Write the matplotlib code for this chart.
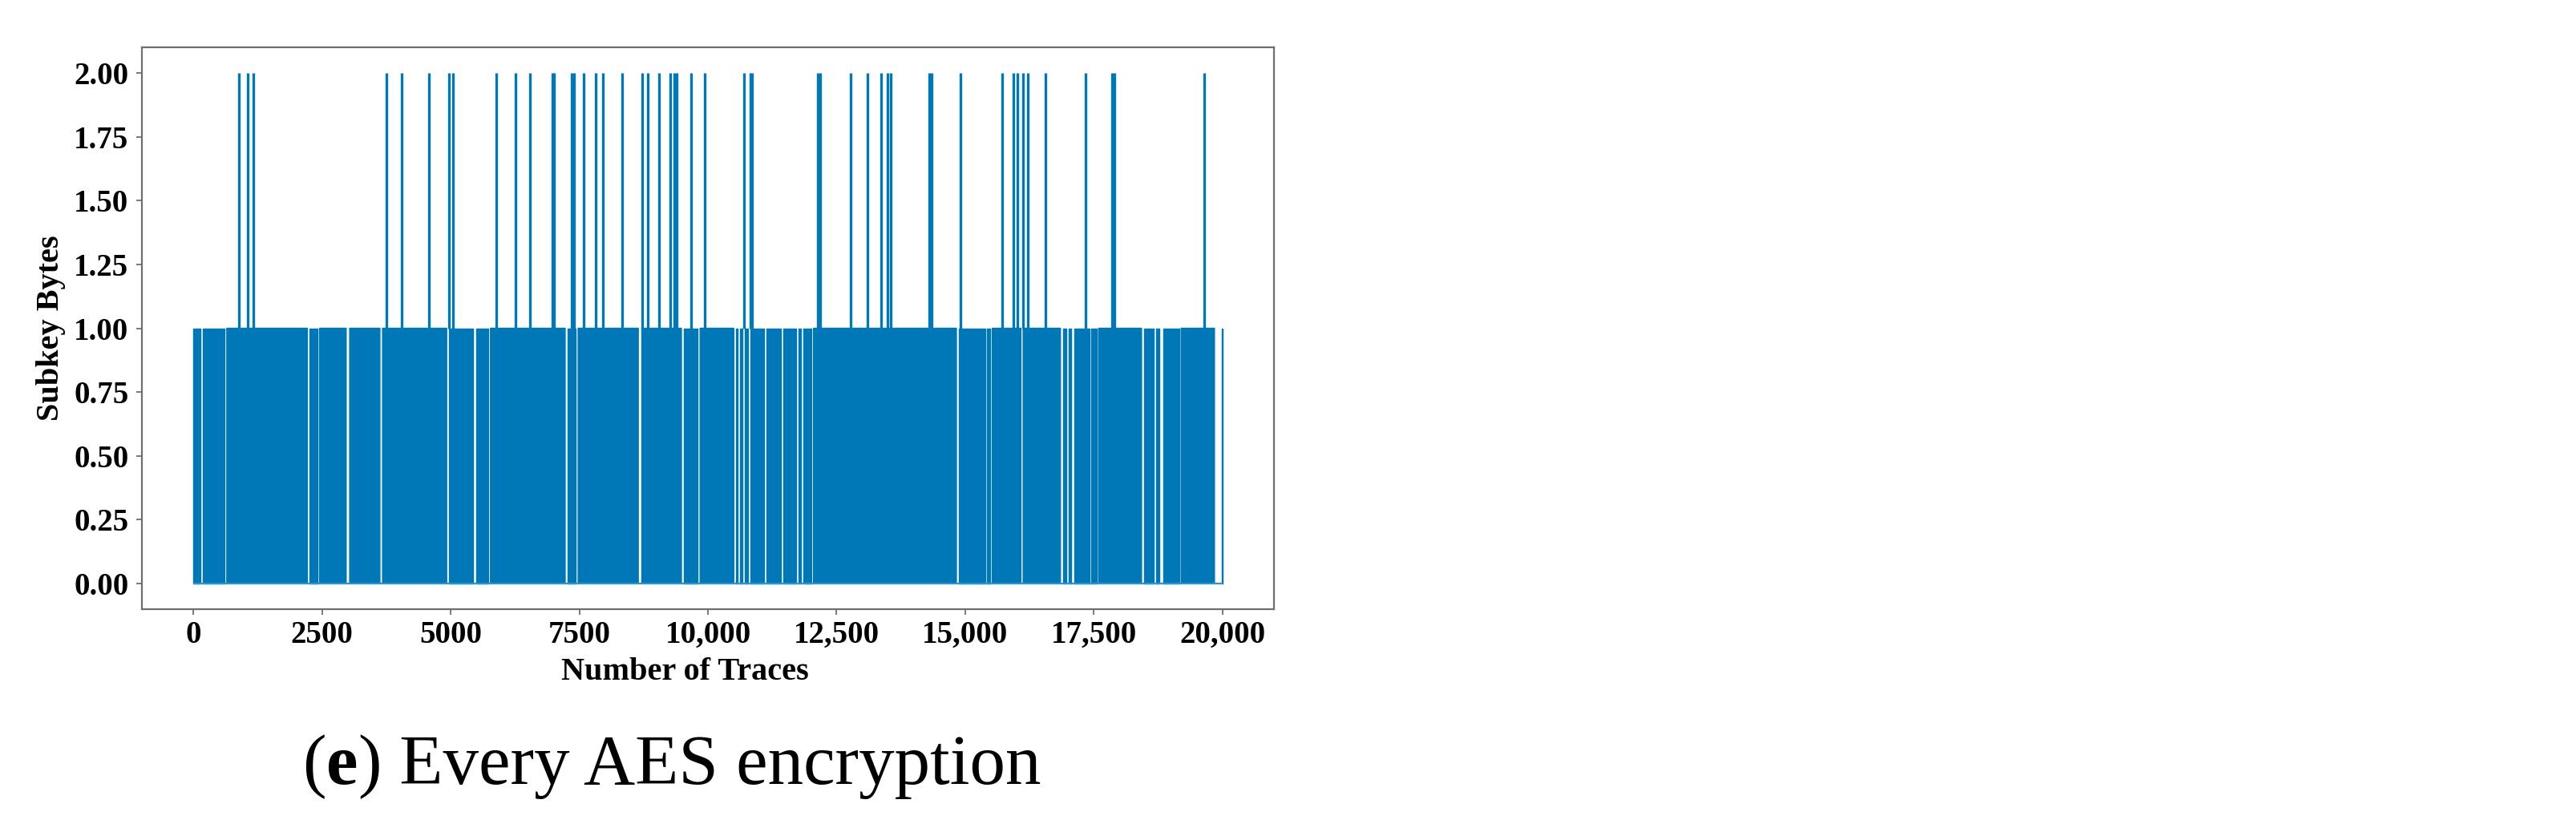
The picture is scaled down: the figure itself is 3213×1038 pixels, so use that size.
import numpy as np
import matplotlib
matplotlib.use("Agg")
import matplotlib.pyplot as plt
from matplotlib.ticker import FuncFormatter

# traces where the recovered subkey count jumps to 2
spike_traces = [883, 1058, 1161, 3752, 4055, 4581, 4964, 5052, 5881, 6264,
                6542, 6980, 7012, 7345, 7405, 7578, 7817, 7953, 8336, 8727,
                8839, 9053, 9265, 9350, 9395, 9680, 9931, 10700, 10830, 10860,
                12130, 12180, 12769, 13095, 13366, 13495, 13560, 14300, 14350,
                14913, 15718, 15941, 16012, 16117, 16220, 16563, 17344, 17845,
                17895, 19641]

# stretches where the signal stays at 0 (white gaps in the band)
quiet_start = [140, 600, 2217, 2412, 2971, 3627, 4924, 5441, 5733, 7227,
               7436, 8648, 9486, 9806, 10504, 10575, 10672, 10783, 11091,
               11425, 11719, 11802, 12011, 14830, 15388, 15484, 16084, 16852,
               16964, 17061, 17411, 17550, 18428, 18666, 18778, 19155, 19845]
quiet_len = [40, 48, 40, 38, 65, 48, 40, 50, 40, 48,
             40, 65, 40, 40, 48, 48, 50, 48, 40,
             40, 48, 48, 40, 48, 40, 40, 40, 48,
             50, 65, 40, 40, 40, 48, 65, 40, 140]

n_traces = 20000

x_ticks = [0, 2500, 5000, 7500, 10000, 12500, 15000, 17500, 20000]
y_ticks = [0.0, 0.25, 0.5, 0.75, 1.0, 1.25, 1.5, 1.75, 2.0]

caption_parts = [("(", "normal"), ("e", "bold"), (")", "normal"),
                 (" Every AES encryption", "normal")]

BLUE = "#0077b7"
W, H = 3213, 1038
serif = ["Liberation Serif", "DejaVu Serif"]

fig = plt.figure(figsize=(W / 100, H / 100), dpi=100)
ax = fig.add_axes([177 / W, (H - 760) / H, (1589 - 177) / W, (760 - 59) / H])

traces = np.arange(0, n_traces + 1)
active = np.ones(len(traces), dtype=bool)
for s, l in zip(quiet_start, quiet_len):
    active[(traces >= s) & (traces <= s + l)] = False

ax.fill_between(traces, 0, 1, where=active, color=BLUE, linewidth=1.0,
                edgecolor=BLUE)
ax.hlines(0, traces[0], traces[-1], color="#2a93d0", linewidth=1.6)
ax.vlines(spike_traces, 1, 2, color=BLUE, linewidth=2.4)

ax.set_xlim(-1000, 21000)
ax.set_ylim(-0.1, 2.1)
ax.set_xticks(x_ticks)
ax.set_yticks(y_ticks)
ax.xaxis.set_major_formatter(FuncFormatter(
    lambda v, p: f"{v:,.0f}" if v >= 10000 else f"{v:.0f}"))
ax.yaxis.set_major_formatter(FuncFormatter(lambda v, p: f"{v:.2f}"))

for sp in ax.spines.values():
    sp.set_color("#6e6e6e")
    sp.set_linewidth(1.6)
ax.tick_params(axis="both", length=5, width=1.3, color="#6e6e6e",
               labelsize=28)
ax.tick_params(axis="x", pad=5)
ax.tick_params(axis="y", pad=7)
for lab in ax.get_xticklabels() + ax.get_yticklabels():
    lab.set_fontfamily(serif)
    lab.set_fontweight("bold")

ax.set_xlabel("Number of Traces", fontsize=29, fontweight="bold",
              family=serif)
ax.xaxis.set_label_coords((854 - 177) / 1412, (760 - 820) / 701)
ax.set_ylabel("Subkey Bytes", fontsize=29, fontweight="bold", family=serif)
ax.yaxis.set_label_coords((82 - 177) / 1412, 0.5)

# caption under the panel, with a bold letter
renderer = fig.canvas.get_renderer()
texts = []
widths = []
for piece, weight in caption_parts:
    t = fig.text(0, (H - 978) / H, piece, fontsize=64, fontweight=weight,
                 family=serif, va="baseline", ha="left")
    texts.append(t)
    widths.append(t.get_window_extent(renderer).width)
x0 = 838 - sum(widths) / 2
for t, w in zip(texts, widths):
    t.set_x(x0 / W)
    x0 += w

fig.savefig("out.png", dpi=100, facecolor="white")
